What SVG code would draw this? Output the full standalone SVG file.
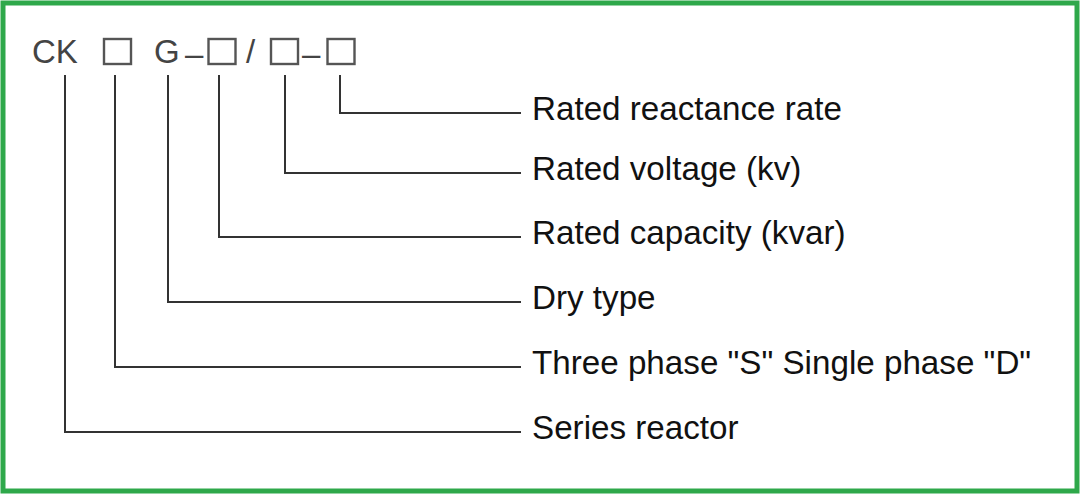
<svg xmlns="http://www.w3.org/2000/svg" width="1080" height="494" viewBox="0 0 1080 494">
<style>
.code{font-family:"Liberation Sans",Arial,sans-serif;font-size:33px;fill:#444}
.box{fill:none;stroke:#555;stroke-width:2.4}
.lbl{font-family:"Liberation Sans",Arial,sans-serif;font-size:33.2px;fill:#111}
.ln{fill:none;stroke:#333;stroke-width:2}
</style>
<rect x="3" y="3" width="1074" height="488" fill="#fff" stroke="#2ea84a" stroke-width="5"/>
<g id="code">
<text class="code" y="63"><tspan x="32">CK</tspan><tspan x="154">G</tspan><tspan x="185" dy="1.5">–</tspan><tspan x="246" dy="-1.5">/</tspan><tspan x="302" dy="1.5">–</tspan></text>
<rect class="box" x="104" y="39" width="27" height="25"/>
<rect class="box" x="208.5" y="39" width="27" height="25"/>
<rect class="box" x="271" y="39" width="27" height="25"/>
<rect class="box" x="327.5" y="39" width="27" height="25"/>
</g>
<g id="connectors">
<polyline class="ln" points="340,75 340,113 521,113"/>
<polyline class="ln" points="285,75 285,173 521,173"/>
<polyline class="ln" points="219,75 219,237 521,237"/>
<polyline class="ln" points="168,75 168,302 521,302"/>
<polyline class="ln" points="115,75 115,367 521,367"/>
<polyline class="ln" points="65,75 65,432 521,432"/>
</g>
<g id="label-reactance-rate"><text class="lbl" x="532" y="120">Rated reactance rate</text></g>
<g id="label-voltage"><text class="lbl" x="532" y="180">Rated voltage (kv)</text></g>
<g id="label-capacity"><text class="lbl" x="532" y="244">Rated capacity (kvar)</text></g>
<g id="label-dry"><text class="lbl" x="532" y="309">Dry type</text></g>
<g id="label-phase"><text class="lbl" x="532" y="374">Three phase "S" Single phase "D"</text></g>
<g id="label-series"><text class="lbl" x="532" y="439">Series reactor</text></g>
</svg>
